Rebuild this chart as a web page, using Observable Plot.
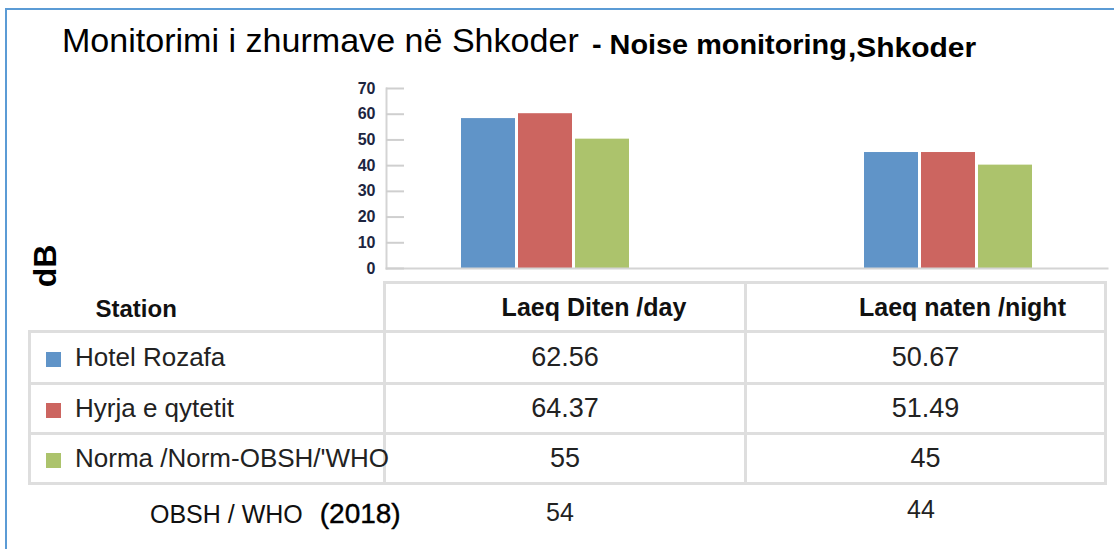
<!DOCTYPE html>
<html>
<head>
<meta charset="utf-8">
<script src="https://cdn.jsdelivr.net/npm/d3@7"></script>
<script src="https://cdn.jsdelivr.net/npm/@observablehq/plot@0.6"></script>
<style>
  body { margin: 0; background: #fff; font-family: "Liberation Sans", Arial, sans-serif; }
  #wrap { position: relative; width: 1114px; height: 549px; overflow: hidden; background: #fff; }
  .blue { position: absolute; background: #5b9bd5; }
  .abs { position: absolute; white-space: nowrap; line-height: 1; color: #111; }
  #chart { position: absolute; left: 340px; top: 75px; }
  #tbl { position: absolute; left: 28px; top: 281px; width: 1079px; border-collapse: collapse; table-layout: fixed; }
  #tbl td { border: 3px solid #dedede; padding: 0; white-space: nowrap; color: #222; overflow: visible; }
  #tbl td.h0 { border-top: none; border-left: none; }
  .sw { display: inline-block; width: 15px; height: 15px; margin-left: 15px; margin-right: 14px; vertical-align: -1px; }
</style>
</head>
<body>
<div id="wrap">
  <div class="blue" style="left:5px;top:8px;width:2px;height:541px"></div>
  <div class="blue" style="left:5px;top:8px;width:1109px;height:2px"></div>
  <div id="title1" class="abs" style="left:62px;top:24px;font-size:33px;color:#000;transform-origin:0 0;transform:scaleX(1.032)"></div>
  <div id="title2" class="abs" style="left:592px;top:31px;font-size:28px;font-weight:bold;color:#000;transform-origin:0 0;transform:scaleX(1.03)"></div>
  <div id="title3" class="abs" style="left:848px;top:34px;font-size:28px;font-weight:bold;color:#000;transform-origin:0 0;transform:scaleX(1.07)"></div>
  <div id="ylab" class="abs" style="left:45px;top:266px;font-size:32px;font-weight:bold;color:#000;transform:translate(-50%,-50%) rotate(-90deg)"></div>
  <div id="chart"></div>
  <table id="tbl"></table>
  <div id="whoLab" class="abs" style="left:150px;top:500px;font-size:25px;color:#111"></div>
  <div id="who0" class="abs" style="left:560px;top:500px;font-size:25px;color:#222;transform:translateX(-50%)"></div>
  <div id="who1" class="abs" style="left:921px;top:497px;font-size:25px;color:#222;transform:translateX(-50%)"></div>
</div>
<script>
// ---- data ----
const titleMain = "Monitorimi i zhurmave në Shkoder";
const titleEn = "- Noise monitoring";
const titleCity = ",Shkoder";
const yLabel = "dB";
const stationHeader = "Station";
const stations = ["Hotel Rozafa", "Hyrja e qytetit", "Norma /Norm-OBSH/'WHO"];
const periods = ["Laeq Diten /day", "Laeq naten /night"];
const colors = ["#6094c8", "#cc6560", "#acc36c"];
const barDay = [58.3, 60.2, 50.3];
const barNight = [45.1, 45.1, 40.2];
const tableDay = ["62.56", "64.37", "55"];
const tableNight = ["50.67", "51.49", "45"];
const whoLabel = "OBSH / WHO";
const whoYear = "(2018)";
const who2018 = ["54", "44"];
const yTicks = [0, 10, 20, 30, 40, 50, 60, 70];

// ---- titles ----
document.getElementById("title1").textContent = titleMain;
document.getElementById("title2").textContent = titleEn;
document.getElementById("title3").textContent = titleCity;
document.getElementById("ylab").textContent = yLabel;

// ---- chart ----
const data = [];
periods.forEach((p, j) => {
  const vals = j === 0 ? barDay : barNight;
  stations.forEach((s, i) => data.push({period: p, station: s, value: vals[i]}));
});

const chart = Plot.plot({
  width: 770,
  height: 200,
  marginLeft: 45,
  marginRight: 2,
  marginTop: 13,
  marginBottom: 7,
  style: {background: "transparent", fontFamily: "'Liberation Sans', Arial, sans-serif", overflow: "visible"},
  fx: {domain: periods, paddingInner: 0.21, paddingOuter: 0, axis: null, label: null},
  x: {domain: stations, paddingInner: 0.06, paddingOuter: 1.3, axis: null, label: null},
  y: {domain: [0, 70], axis: null},
  color: {domain: stations, range: colors},
  marks: [
    Plot.barY(data, {fx: "period", x: "station", y: "value", fill: "station"}),
    Plot.frame({anchor: "bottom", facet: "super", stroke: "#d4d4d4", strokeWidth: 2}),
    Plot.frame({anchor: "left", facet: "super", stroke: "#d4d4d4", strokeWidth: 2}),
    Plot.axisY(yTicks, {tickSize: -18, tickFormat: () => "", label: null, stroke: "#cfcfcf", strokeWidth: 2}),
    Plot.axisY(yTicks, {tickSize: 0, tickPadding: 11, label: null, fontSize: 16, fontWeight: "bold", fill: "#1d2540"})
  ]
});
document.getElementById("chart").appendChild(chart);

// ---- table ----
const tbl = document.getElementById("tbl");
const cg = document.createElement("colgroup");
[355, 361, 360].forEach(w => { const c = document.createElement("col"); c.style.width = w + "px"; cg.appendChild(c); });
tbl.appendChild(cg);

const hr = document.createElement("tr");
hr.style.height = "49px";
const h0 = document.createElement("td");
h0.className = "h0";
h0.textContent = stationHeader;
h0.style.cssText = "font-weight:bold;font-size:24px;padding-left:66px;padding-top:6px;color:#111";
hr.appendChild(h0);
periods.forEach((p, j) => {
  const td = document.createElement("td");
  td.textContent = p;
  td.style.cssText = `font-weight:bold;font-size:25px;text-align:center;padding-left:${j === 0 ? 58 : 74}px;color:#111`;
  hr.appendChild(td);
});
tbl.appendChild(hr);

const rowH = [52, 50, 50];
stations.forEach((s, i) => {
  const tr = document.createElement("tr");
  tr.style.height = rowH[i] + "px";
  const td0 = document.createElement("td");
  td0.style.fontSize = "26px";
  const sw = document.createElement("span");
  sw.className = "sw";
  sw.style.background = colors[i];
  td0.appendChild(sw);
  td0.appendChild(document.createTextNode(s));
  tr.appendChild(td0);
  [tableDay[i], tableNight[i]].forEach(v => {
    const td = document.createElement("td");
    td.textContent = v;
    td.style.cssText = "font-size:27px;text-align:center;";
    tr.appendChild(td);
  });
  tbl.appendChild(tr);
});

const wl = document.getElementById("whoLab");
wl.innerHTML = "";
wl.appendChild(document.createTextNode(whoLabel + "  "));
const yr = document.createElement("span");
yr.textContent = whoYear;
yr.style.cssText = "font-size:28px;margin-left:10px;color:#000;-webkit-text-stroke:0.4px #000";
wl.appendChild(yr);
document.getElementById("who0").textContent = who2018[0];
document.getElementById("who1").textContent = who2018[1];
</script>
</body>
</html>
